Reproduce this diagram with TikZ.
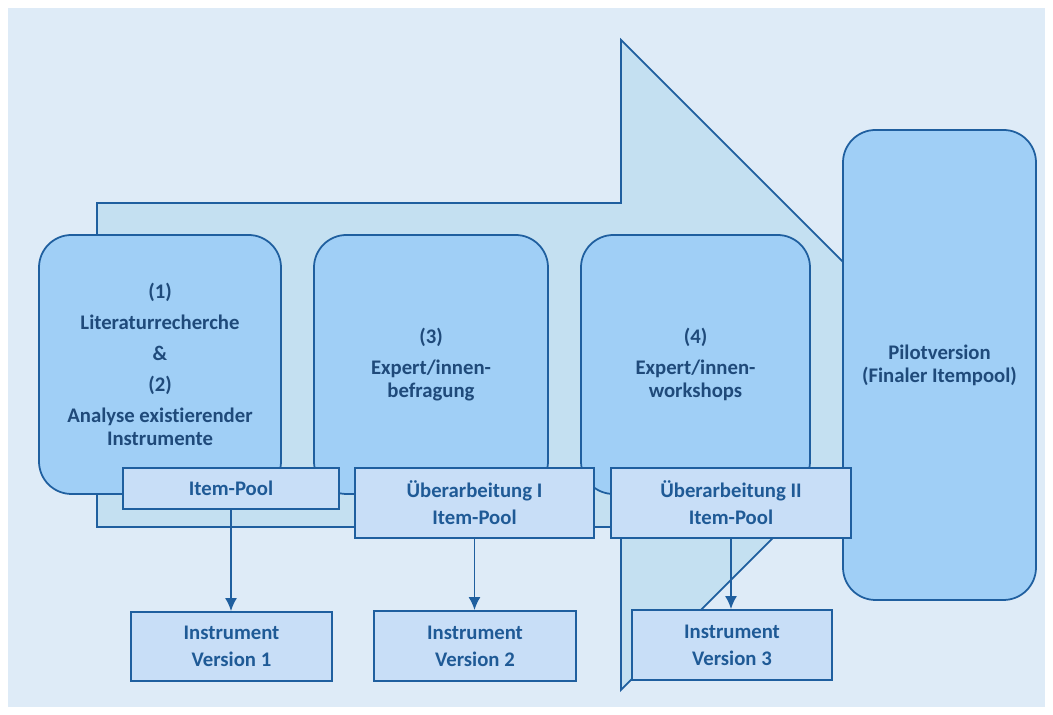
\documentclass[tikz,border=0pt]{standalone}
\usepackage{fontspec}
\setmainfont{Carlito}[Ligatures={NoCommon}]
\usepackage{tikz}
\usetikzlibrary{arrows.meta}

\definecolor{bgblue}{HTML}{DEEBF7}
\definecolor{arrowblue}{HTML}{C4E0F1}
\definecolor{stageblue}{HTML}{A0CFF6}
\definecolor{poolblue}{HTML}{C8DEF7}
\definecolor{lineblue}{HTML}{1F5F9F}
\definecolor{textnavy}{HTML}{1F4A7A}
\definecolor{textblue}{HTML}{1F5A96}

\begin{document}
\begin{tikzpicture}[
	stage/.style={rectangle,rounded corners=0.65cm,draw=lineblue,line width=1pt,fill=stageblue,
		text=textnavy,align=center,inner sep=0pt,font=\bfseries\fontsize{11.8}{13.1}\selectfont},
	pool/.style={rectangle,draw=lineblue,line width=1pt,fill=poolblue,
		text=textblue,align=center,inner sep=0pt,font=\bfseries\fontsize{11.8}{15.3}\selectfont},
	conn/.style={draw=lineblue,line width=1pt,-{Latex[length=2.6mm,width=2.4mm]}}
	]
		\useasboundingbox (0,0) rectangle (21.06,14.3);
		\fill[bgblue] (0.16,0.16) rectangle (20.9,14.14);
%		\draw[help lines] (0,0) grid (21,14);

		% big arrow
		\path (1.94,10.24) coordinate (shaft_tl);
		\path (12.42,10.24) coordinate (head_bt);
		\path (12.42,13.5) coordinate (head_top);
		\path (18.92,7) coordinate (tip);
		\path (12.42,0.5) coordinate (head_bot);
		\path (12.42,3.76) coordinate (head_bb);
		\path (1.94,3.76) coordinate (shaft_bl);

		\path (3.2,7.01) coordinate (stage1_c);
		\path (8.62,7.01) coordinate (stage2_c);
		\path (13.91,7.01) coordinate (stage3_c);
		\path (18.79,7) coordinate (pilot_c);

		\path (4.62,4.53) coordinate (pool1_c);
		\path (9.49,4.24) coordinate (pool2_c);
		\path (14.62,4.24) coordinate (pool3_c);

		\path (4.63,1.37) coordinate (inst1_c);
		\path (9.5,1.38) coordinate (inst2_c);
		\path (14.64,1.4) coordinate (inst3_c);

		\draw[draw=lineblue,line width=1pt,fill=arrowblue] (shaft_tl) -- (head_bt) -- (head_top) -- (tip)
			-- (head_bot) -- (head_bb) -- (shaft_bl) -- cycle;

		\node[stage,minimum width=4.84cm,minimum height=5.18cm] (stage1) at (stage1_c)
			{(1)\\[4.5pt] Literaturrecherche\\[4.5pt] \&\\[4.5pt] (2)\\[4.5pt] Analyse existierender\\ Instrumente};
		\node[stage,minimum width=4.68cm,minimum height=5.18cm] (stage2) at (stage2_c)
			{(3)\\[4.5pt] Expert/innen-\\ befragung};
		\node[stage,minimum width=4.58cm,minimum height=5.18cm] (stage3) at (stage3_c)
			{(4)\\[4.5pt] Expert/innen-\\ workshops};
		\node[stage,minimum width=3.86cm,minimum height=9.4cm] (pilot) at (pilot_c)
			{Pilotversion\\ (Finaler Itempool)};

		\node[pool,minimum width=4.32cm,minimum height=0.82cm] (pool1) at (pool1_c) {Item-Pool};
		\node[pool,minimum width=4.78cm,minimum height=1.4cm] (pool2) at (pool2_c) {Überarbeitung I\\ Item-Pool};
		\node[pool,minimum width=4.8cm,minimum height=1.4cm] (pool3) at (pool3_c) {Überarbeitung II\\ Item-Pool};

		\node[pool,minimum width=4.02cm,minimum height=1.38cm] (inst1) at (inst1_c) {Instrument\\ Version 1};
		\node[pool,minimum width=4.04cm,minimum height=1.4cm] (inst2) at (inst2_c) {Instrument\\ Version 2};
		\node[pool,minimum width=4cm,minimum height=1.4cm] (inst3) at (inst3_c) {Instrument\\ Version 3};

		\draw[conn] (pool1.south) -- (pool1.south |- inst1.north);
		\draw[conn] (pool2.south) -- (pool2.south |- inst2.north);
		\draw[conn] (pool3.south) -- (pool3.south |- inst3.north);
	\end{tikzpicture}
\end{document}
